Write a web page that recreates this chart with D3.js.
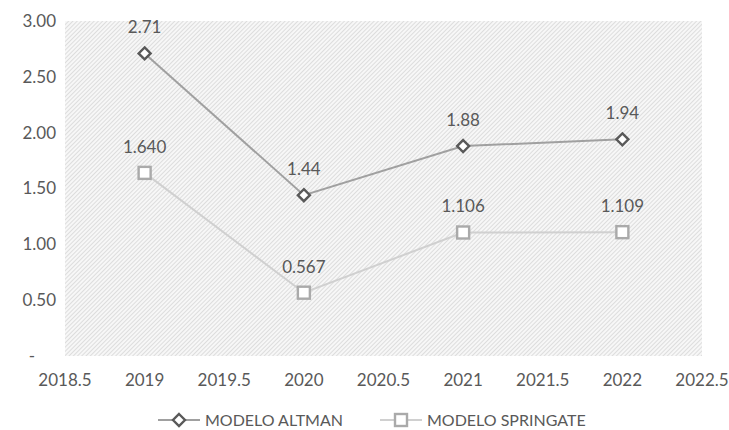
<!DOCTYPE html>
<html>
<head>
<meta charset="utf-8">
<script src="https://cdn.jsdelivr.net/npm/d3@7"></script>
<style>
  body { margin: 0; background: #fff; }
  text { font-family: Lato, "Open Sans", sans-serif; fill: #595959; }
</style>
</head>
<body>
<div id="chart"></div>
<script>
var years = [2019, 2020, 2021, 2022];
var altman = [2.71, 1.44, 1.88, 1.94];
var springate = [1.640, 0.567, 1.106, 1.109];
var altmanLabels = ["2.71", "1.44", "1.88", "1.94"];
var springateLabels = ["1.640", "0.567", "1.106", "1.109"];
var xTicks = [2018.5, 2019, 2019.5, 2020, 2020.5, 2021, 2021.5, 2022, 2022.5];
var yTicks = [0, 0.5, 1, 1.5, 2, 2.5, 3];
var seriesNames = ["MODELO ALTMAN", "MODELO SPRINGATE"];

var width = 729, height = 430;
var margin = {top: 21, right: 27, bottom: 74, left: 65};

var svg = d3.select("#chart").append("svg")
  .attr("width", width)
  .attr("height", height);

var defs = svg.append("defs");
var pat = defs.append("pattern")
  .attr("id", "hatch")
  .attr("patternUnits", "userSpaceOnUse")
  .attr("width", 3)
  .attr("height", 3)
  .attr("patternTransform", "rotate(45)");
pat.append("rect").attr("width", 3).attr("height", 3).attr("fill", "#f7f7f7");
pat.append("line")
  .attr("x1", 0).attr("y1", 0).attr("x2", 0).attr("y2", 3)
  .attr("stroke", "#cfcfcf").attr("stroke-width", 1.3);

var x = d3.scaleLinear()
  .domain([2018.5, 2022.5])
  .range([margin.left, width - margin.right]);
var y = d3.scaleLinear()
  .domain([0, 3])
  .range([height - margin.bottom, margin.top]);

// plot area background
svg.append("rect")
  .attr("x", x(2018.5))
  .attr("y", y(3))
  .attr("width", x(2022.5) - x(2018.5))
  .attr("height", y(0) - y(3))
  .attr("fill", "url(#hatch)");

// y axis labels
svg.selectAll("text.ytick")
  .data(yTicks)
  .enter().append("text")
  .attr("class", "ytick")
  .attr("x", function(d) { return d === 0 ? 35 : 56; })
  .attr("y", function(d) { return y(d); })
  .attr("dy", "0.35em")
  .attr("text-anchor", "end")
  .attr("font-size", "17px")
  .text(function(d) { return d === 0 ? "-" : d3.format(".2f")(d); });

// x axis labels
svg.selectAll("text.xtick")
  .data(xTicks)
  .enter().append("text")
  .attr("class", "xtick")
  .attr("x", function(d) { return x(d); })
  .attr("y", y(0) + 30)
  .attr("text-anchor", "middle")
  .attr("font-size", "17px")
  .text(function(d) { return d; });

var line = d3.line()
  .x(function(d, i) { return x(years[i]); })
  .y(function(d) { return y(d); });

svg.append("path")
  .datum(springate)
  .attr("fill", "none")
  .attr("stroke", "#d0d0d0")
  .attr("stroke-width", 2)
  .attr("d", line);

svg.append("path")
  .datum(altman)
  .attr("fill", "none")
  .attr("stroke", "#a0a0a0")
  .attr("stroke-width", 2)
  .attr("d", line);

function diamond(g, cx, cy) {
  g.append("path")
    .attr("d", "M" + cx + "," + (cy - 6) + "L" + (cx + 6) + "," + cy +
      "L" + cx + "," + (cy + 6) + "L" + (cx - 6) + "," + cy + "Z")
    .attr("fill", "#fff")
    .attr("stroke", "#595959")
    .attr("stroke-width", 2.4);
}
function square(g, cx, cy) {
  g.append("rect")
    .attr("x", cx - 6).attr("y", cy - 6)
    .attr("width", 12).attr("height", 12)
    .attr("fill", "#fff")
    .attr("stroke", "#aaaaaa")
    .attr("stroke-width", 2.4);
}

var marks = svg.append("g");
springate.forEach(function(v, i) { square(marks, x(years[i]), y(v)); });
altman.forEach(function(v, i) { diamond(marks, x(years[i]), y(v)); });

svg.selectAll("text.lblA")
  .data(altman)
  .enter().append("text")
  .attr("class", "lblA")
  .attr("x", function(d, i) { return x(years[i]); })
  .attr("y", function(d) { return y(d) - 20; })
  .attr("text-anchor", "middle")
  .attr("font-size", "17px")
  .text(function(d, i) { return altmanLabels[i]; });

svg.selectAll("text.lblS")
  .data(springate)
  .enter().append("text")
  .attr("class", "lblS")
  .attr("x", function(d, i) { return x(years[i]); })
  .attr("y", function(d) { return y(d) - 20; })
  .attr("text-anchor", "middle")
  .attr("font-size", "17px")
  .text(function(d, i) { return springateLabels[i]; });

// legend
var legend = svg.append("g");
var lx = [158, 380];
var ly = 420;
[0, 1].forEach(function(i) {
  legend.append("line")
    .attr("x1", lx[i]).attr("x2", lx[i] + 42)
    .attr("y1", ly).attr("y2", ly)
    .attr("stroke", i === 0 ? "#a0a0a0" : "#d0d0d0")
    .attr("stroke-width", 2);
  if (i === 0) diamond(legend, lx[i] + 21, ly);
  else square(legend, lx[i] + 21, ly);
  legend.append("text")
    .attr("x", lx[i] + 47)
    .attr("y", ly + 6)
    .attr("font-size", "16px")
    .text(seriesNames[i]);
});
</script>
</body>
</html>
